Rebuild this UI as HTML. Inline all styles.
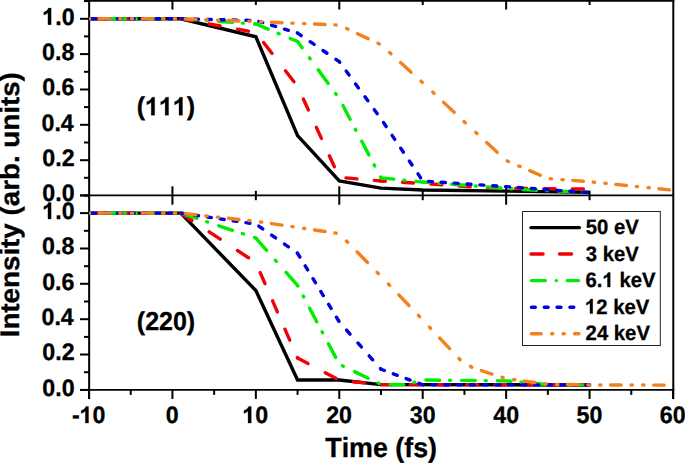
<!DOCTYPE html>
<html><head><meta charset="utf-8"><title>Intensity vs Time</title>
<style>
html,body{margin:0;padding:0;background:#fff;}
body{width:685px;height:463px;overflow:hidden;}
svg{display:block;}
text{font-family:"Liberation Sans",sans-serif;font-weight:bold;fill:#000;font-kerning:none;text-rendering:geometricPrecision;stroke:#000;stroke-width:0.3px;}
.h{fill:none;stroke:none;}
</style></head><body>
<svg width="685" height="463" viewBox="0 0 685 463">
<rect x="0" y="0" width="685" height="463" fill="#fff"/>
<g stroke="#000" stroke-width="2" fill="none">
<line x1="84" y1="0.8" x2="674.3" y2="0.8" stroke-width="1.7"/>
<line x1="80" y1="195.45" x2="673" y2="195.45" stroke-width="1.7"/>
<line x1="80" y1="389.85" x2="674.3" y2="389.85" stroke-width="1.9"/>
<line x1="89.15" y1="0" x2="89.15" y2="398.9"/>
<line x1="673.3" y1="0" x2="673.3" y2="398.9"/>
<line x1="80" y1="195.5" x2="89" y2="195.5"/>
<line x1="84" y1="177.8" x2="89" y2="177.8"/>
<line x1="80" y1="160.2" x2="89" y2="160.2"/>
<line x1="84" y1="142.5" x2="89" y2="142.5"/>
<line x1="80" y1="124.8" x2="89" y2="124.8"/>
<line x1="84" y1="107.1" x2="89" y2="107.1"/>
<line x1="80" y1="89.5" x2="89" y2="89.5"/>
<line x1="84" y1="71.8" x2="89" y2="71.8"/>
<line x1="80" y1="54.1" x2="89" y2="54.1"/>
<line x1="84" y1="36.4" x2="89" y2="36.4"/>
<line x1="80" y1="18.8" x2="89" y2="18.8"/>
<line x1="84" y1="1.1" x2="89" y2="1.1"/>
<line x1="80" y1="389.9" x2="89" y2="389.9"/>
<line x1="84" y1="372.2" x2="89" y2="372.2"/>
<line x1="80" y1="354.5" x2="89" y2="354.5"/>
<line x1="84" y1="336.9" x2="89" y2="336.9"/>
<line x1="80" y1="319.2" x2="89" y2="319.2"/>
<line x1="84" y1="301.5" x2="89" y2="301.5"/>
<line x1="80" y1="283.8" x2="89" y2="283.8"/>
<line x1="84" y1="266.2" x2="89" y2="266.2"/>
<line x1="80" y1="248.5" x2="89" y2="248.5"/>
<line x1="84" y1="230.8" x2="89" y2="230.8"/>
<line x1="80" y1="213.1" x2="89" y2="213.1"/>
<line x1="84" y1="195.5" x2="89" y2="195.5"/>
<line x1="89.00" y1="389.9" x2="89.00" y2="398.9"/>
<line x1="130.72" y1="389.9" x2="130.72" y2="394.9"/>
<line x1="172.43" y1="389.9" x2="172.43" y2="398.9"/>
<line x1="214.14" y1="389.9" x2="214.14" y2="394.9"/>
<line x1="255.86" y1="389.9" x2="255.86" y2="398.9"/>
<line x1="297.57" y1="389.9" x2="297.57" y2="394.9"/>
<line x1="339.29" y1="389.9" x2="339.29" y2="398.9"/>
<line x1="381.00" y1="389.9" x2="381.00" y2="394.9"/>
<line x1="422.72" y1="389.9" x2="422.72" y2="398.9"/>
<line x1="464.44" y1="389.9" x2="464.44" y2="394.9"/>
<line x1="506.15" y1="389.9" x2="506.15" y2="398.9"/>
<line x1="547.87" y1="389.9" x2="547.87" y2="394.9"/>
<line x1="589.58" y1="389.9" x2="589.58" y2="398.9"/>
<line x1="631.29" y1="389.9" x2="631.29" y2="394.9"/>
<line x1="673.01" y1="389.9" x2="673.01" y2="398.9"/>
<line x1="172.43" y1="0" x2="172.43" y2="9.5"/>
<line x1="172.43" y1="186.3" x2="172.43" y2="204.7"/>
<line x1="255.86" y1="0" x2="255.86" y2="5.0"/>
<line x1="255.86" y1="190.8" x2="255.86" y2="200.2"/>
<line x1="339.29" y1="0" x2="339.29" y2="9.5"/>
<line x1="339.29" y1="186.3" x2="339.29" y2="204.7"/>
<line x1="422.72" y1="0" x2="422.72" y2="5.0"/>
<line x1="422.72" y1="190.8" x2="422.72" y2="200.2"/>
<line x1="506.15" y1="0" x2="506.15" y2="9.5"/>
<line x1="506.15" y1="186.3" x2="506.15" y2="204.7"/>
<line x1="589.58" y1="0" x2="589.58" y2="5.0"/>
<line x1="589.58" y1="190.8" x2="589.58" y2="200.2"/>
</g>
<defs><clipPath id="ct"><rect x="89.2" y="0" width="585" height="196"/></clipPath><clipPath id="cb"><rect x="89.2" y="196" width="585" height="194"/></clipPath></defs>
<g clip-path="url(#ct)" fill="none" stroke-width="3.4">
<polyline points="89.00,18.75 180.77,18.75 255.86,36.78 297.57,135.58 339.29,181.01 381.00,188.08 422.72,190.02 506.15,191.08 589.58,192.32" stroke="#000000" stroke-linejoin="miter" stroke-linecap="butt"/>
<g stroke="#f20008" stroke-linecap="round">
<line x1="89.00" y1="18.75" x2="180.77" y2="18.75" stroke-dasharray="11.000 17.300" stroke-dashoffset="21.300"/>
<line x1="180.77" y1="18.75" x2="255.86" y2="32.54" stroke-dasharray="11.184 17.589" stroke-dashoffset="28.644"/>
<line x1="255.86" y1="32.54" x2="297.57" y2="86.45" stroke-dasharray="13.909 21.875" stroke-dashoffset="23.215"/>
<line x1="297.57" y1="86.45" x2="339.29" y2="177.29" stroke-dasharray="12.104 19.037" stroke-dashoffset="17.242"/>
<line x1="339.29" y1="177.29" x2="381.00" y2="181.01" stroke-dasharray="11.043 17.368" stroke-dashoffset="21.704"/>
<line x1="381.00" y1="181.01" x2="422.72" y2="183.48" stroke-dasharray="11.019 17.330" stroke-dashoffset="6.745"/>
<line x1="422.72" y1="183.48" x2="481.12" y2="187.55" stroke-dasharray="11.027 17.342" stroke-dashoffset="20.197"/>
<line x1="481.12" y1="187.55" x2="522.84" y2="188.43" stroke-dasharray="11.002 17.304" stroke-dashoffset="21.954"/>
<line x1="522.84" y1="188.43" x2="589.58" y2="189.14" stroke-dasharray="11.001 17.301" stroke-dashoffset="7.065"/>
</g>
<g stroke="#00ec00" stroke-linecap="round">
<line x1="89.00" y1="18.75" x2="180.77" y2="18.75" stroke-dasharray="13.600 10.000 1.000 11.100" stroke-dashoffset="13.000"/>
<line x1="180.77" y1="18.75" x2="255.86" y2="24.05" stroke-dasharray="13.634 10.025 1.002 11.128" stroke-dashoffset="33.456"/>
<line x1="255.86" y1="24.05" x2="297.57" y2="41.55" stroke-dasharray="14.748 10.844 1.084 12.037" stroke-dashoffset="1.475"/>
<line x1="297.57" y1="41.55" x2="339.29" y2="98.64" stroke-dasharray="16.844 12.385 1.239 13.747" stroke-dashoffset="9.134"/>
<line x1="339.29" y1="98.64" x2="381.00" y2="177.82" stroke-dasharray="15.372 11.303 1.130 12.546" stroke-dashoffset="32.513"/>
<line x1="381.00" y1="177.82" x2="422.72" y2="182.07" stroke-dasharray="13.670 10.052 1.005 11.157" stroke-dashoffset="0.854"/>
<line x1="422.72" y1="182.07" x2="472.78" y2="185.78" stroke-dasharray="13.637 10.027 1.003 11.130" stroke-dashoffset="6.883"/>
<line x1="472.78" y1="185.78" x2="522.84" y2="189.67" stroke-dasharray="13.641 10.030 1.003 11.133" stroke-dashoffset="21.286"/>
<line x1="522.84" y1="189.67" x2="589.58" y2="192.32" stroke-dasharray="13.611 10.008 1.001 11.109" stroke-dashoffset="35.608"/>
</g>
<g stroke="#0000e0" stroke-linecap="round">
<line x1="89.00" y1="18.75" x2="180.77" y2="18.75" stroke-dasharray="4.000 8.850" stroke-dashoffset="10.150"/>
<line x1="180.77" y1="18.75" x2="255.86" y2="20.52" stroke-dasharray="4.001 8.852" stroke-dashoffset="11.976"/>
<line x1="255.86" y1="20.52" x2="297.57" y2="33.07" stroke-dasharray="4.177 9.242" stroke-dashoffset="10.401"/>
<line x1="297.57" y1="33.07" x2="339.29" y2="61.70" stroke-dasharray="4.852 10.734" stroke-dashoffset="0.334"/>
<line x1="339.29" y1="61.70" x2="381.00" y2="118.79" stroke-dasharray="4.954 10.961" stroke-dashoffset="4.260"/>
<line x1="381.00" y1="118.79" x2="422.72" y2="181.01" stroke-dasharray="4.816 10.655" stroke-dashoffset="10.993"/>
<line x1="422.72" y1="181.01" x2="464.44" y2="183.83" stroke-dasharray="4.009 8.870" stroke-dashoffset="7.113"/>
<line x1="464.44" y1="183.83" x2="506.15" y2="186.66" stroke-dasharray="4.009 8.870" stroke-dashoffset="10.285"/>
<line x1="506.15" y1="186.66" x2="589.58" y2="192.67" stroke-dasharray="4.010 8.873" stroke-dashoffset="0.578"/>
</g>
<g stroke="#f5801e" stroke-linecap="round">
<line x1="89.00" y1="18.75" x2="180.77" y2="18.75" stroke-dasharray="10.600 9.850 1.300 10.400 1.300 9.600" stroke-dashoffset="32.850"/>
<line x1="180.77" y1="18.75" x2="255.86" y2="21.58" stroke-dasharray="10.608 9.857 1.301 10.407 1.301 9.607" stroke-dashoffset="38.550"/>
<line x1="255.86" y1="21.58" x2="339.29" y2="25.11" stroke-dasharray="10.610 9.859 1.301 10.409 1.301 9.609" stroke-dashoffset="27.535"/>
<line x1="339.29" y1="25.11" x2="381.00" y2="44.73" stroke-dasharray="11.714 10.885 1.437 11.493 1.437 10.609" stroke-dashoffset="27.450"/>
<line x1="381.00" y1="44.73" x2="422.72" y2="82.73" stroke-dasharray="14.339 13.324 1.759 14.068 1.759 12.986" stroke-dashoffset="31.796"/>
<line x1="422.72" y1="82.73" x2="464.44" y2="121.97" stroke-dasharray="14.552 13.523 1.785 14.278 1.785 13.180" stroke-dashoffset="30.437"/>
<line x1="464.44" y1="121.97" x2="506.15" y2="160.50" stroke-dasharray="14.430 13.409 1.770 14.158 1.770 13.069" stroke-dashoffset="28.363"/>
<line x1="506.15" y1="160.50" x2="547.87" y2="178.53" stroke-dasharray="11.548 10.731 1.416 11.330 1.416 10.458" stroke-dashoffset="21.243"/>
<line x1="547.87" y1="178.53" x2="589.58" y2="181.71" stroke-dasharray="10.631 9.879 1.304 10.430 1.304 9.628" stroke-dashoffset="18.218"/>
<line x1="589.58" y1="181.71" x2="673.01" y2="190.20" stroke-dasharray="10.655 9.901 1.307 10.454 1.307 9.650" stroke-dashoffset="16.917"/>
</g>
</g>
<g clip-path="url(#cb)" fill="none" stroke-width="3.4">
<polyline points="89.00,213.15 180.77,213.15 255.86,290.57 297.57,380.00 339.29,380.00 381.00,384.60 589.58,384.95" stroke="#000000" stroke-linejoin="miter" stroke-linecap="butt"/>
<g stroke="#f20008" stroke-linecap="round">
<line x1="89.00" y1="213.15" x2="180.77" y2="213.15" stroke-dasharray="11.000 17.300" stroke-dashoffset="21.300"/>
<line x1="180.77" y1="213.15" x2="255.86" y2="262.64" stroke-dasharray="13.174 20.720" stroke-dashoffset="33.742"/>
<line x1="255.86" y1="262.64" x2="297.57" y2="358.08" stroke-dasharray="12.005 18.880" stroke-dashoffset="20.037"/>
<line x1="297.57" y1="358.08" x2="339.29" y2="380.18" stroke-dasharray="12.448 19.577" stroke-dashoffset="0.685"/>
<line x1="339.29" y1="380.18" x2="381.00" y2="384.60" stroke-dasharray="11.062 17.397" stroke-dashoffset="14.098"/>
<line x1="381.00" y1="384.60" x2="589.58" y2="384.95" stroke-dasharray="11.000 17.300" stroke-dashoffset="27.435"/>
</g>
<g stroke="#00ec00" stroke-linecap="round">
<line x1="89.00" y1="213.15" x2="180.77" y2="213.15" stroke-dasharray="13.600 10.000 1.000 11.100" stroke-dashoffset="13.000"/>
<line x1="180.77" y1="213.15" x2="255.86" y2="238.07" stroke-dasharray="14.330 10.536 1.054 11.695" stroke-dashoffset="35.163"/>
<line x1="255.86" y1="238.07" x2="297.57" y2="285.44" stroke-dasharray="18.122 13.325 1.332 14.791" stroke-dashoffset="1.812"/>
<line x1="297.57" y1="285.44" x2="339.29" y2="364.27" stroke-dasharray="15.387 11.314 1.131 12.558" stroke-dashoffset="14.741"/>
<line x1="339.29" y1="364.27" x2="381.00" y2="384.42" stroke-dasharray="15.103 11.105 1.111 12.327" stroke-dashoffset="22.721"/>
<line x1="381.00" y1="384.42" x2="406.03" y2="384.60" stroke-dasharray="13.600 10.000 1.000 11.100" stroke-dashoffset="26.475"/>
<line x1="406.03" y1="384.60" x2="422.72" y2="380.00" stroke-dasharray="14.106 10.372 1.037 11.513" stroke-dashoffset="16.392"/>
<line x1="422.72" y1="380.00" x2="506.15" y2="380.89" stroke-dasharray="13.601 10.001 1.000 11.101" stroke-dashoffset="32.491"/>
<line x1="506.15" y1="380.89" x2="547.87" y2="384.60" stroke-dasharray="13.654 10.040 1.004 11.144" stroke-dashoffset="8.854"/>
<line x1="547.87" y1="384.60" x2="589.58" y2="384.95" stroke-dasharray="13.600 10.000 1.000 11.100" stroke-dashoffset="14.835"/>
</g>
<g stroke="#0000e0" stroke-linecap="round">
<line x1="89.00" y1="213.15" x2="180.77" y2="213.15" stroke-dasharray="4.000 8.850" stroke-dashoffset="10.150"/>
<line x1="180.77" y1="213.15" x2="255.86" y2="224.11" stroke-dasharray="4.042 8.944" stroke-dashoffset="12.100"/>
<line x1="255.86" y1="224.11" x2="297.57" y2="253.27" stroke-dasharray="4.881 10.798" stroke-dashoffset="12.153"/>
<line x1="297.57" y1="253.27" x2="339.29" y2="321.85" stroke-dasharray="4.682 10.359" stroke-dashoffset="0.322"/>
<line x1="339.29" y1="321.85" x2="381.00" y2="369.22" stroke-dasharray="5.330 11.793" stroke-dashoffset="6.135"/>
<line x1="381.00" y1="369.22" x2="422.72" y2="384.77" stroke-dasharray="4.269 9.445" stroke-dashoffset="0.612"/>
<line x1="422.72" y1="384.77" x2="589.58" y2="384.95" stroke-dasharray="4.000 8.850" stroke-dashoffset="3.738"/>
</g>
<g stroke="#f5801e" stroke-linecap="round">
<line x1="89.00" y1="213.15" x2="180.77" y2="213.15" stroke-dasharray="10.600 9.850 1.300 10.400 1.300 9.600" stroke-dashoffset="32.850"/>
<line x1="180.77" y1="213.15" x2="255.86" y2="221.28" stroke-dasharray="10.662 9.908 1.308 10.461 1.308 9.656" stroke-dashoffset="38.748"/>
<line x1="255.86" y1="221.28" x2="339.29" y2="233.65" stroke-dasharray="10.716 9.958 1.314 10.514 1.314 9.705" stroke-dashoffset="27.811"/>
<line x1="339.29" y1="233.65" x2="381.00" y2="276.25" stroke-dasharray="14.836 13.787 1.820 14.556 1.820 13.437" stroke-dashoffset="34.767"/>
<line x1="381.00" y1="276.25" x2="422.72" y2="319.91" stroke-dasharray="14.661 13.624 1.798 14.384 1.798 13.278" stroke-dashoffset="33.730"/>
<line x1="422.72" y1="319.91" x2="460.26" y2="359.85" stroke-dasharray="14.547 13.518 1.784 14.272 1.784 13.175" stroke-dashoffset="34.301"/>
<line x1="460.26" y1="359.85" x2="472.78" y2="367.81" stroke-dasharray="12.560 11.671 1.540 12.323 1.540 11.375" stroke-dashoffset="25.936"/>
<line x1="472.78" y1="367.81" x2="506.15" y2="378.59" stroke-dasharray="11.139 10.351 1.366 10.929 1.366 10.089" stroke-dashoffset="36.155"/>
<line x1="506.15" y1="378.59" x2="547.87" y2="384.24" stroke-dasharray="10.697 9.940 1.312 10.495 1.312 9.688" stroke-dashoffset="24.952"/>
<line x1="547.87" y1="384.24" x2="589.58" y2="384.95" stroke-dasharray="10.602 9.851 1.300 10.401 1.300 9.601" stroke-dashoffset="23.394"/>
<line x1="589.58" y1="384.95" x2="673.01" y2="385.13" stroke-dasharray="10.600 9.850 1.300 10.400 1.300 9.600" stroke-dashoffset="22.056"/>
</g>
</g>
<text x="42.30 55.20 61.65" y="201.40" font-size="23.20" transform="matrix(1,0,0,1.0300,0,-6.042)">0.0</text>
<text x="42.28 55.18 61.63" y="166.05" font-size="23.20" transform="matrix(1,0,0,1.0300,0,-4.982)">0.2</text>
<text x="41.47 54.38 60.82" y="130.70" font-size="23.20" transform="matrix(1,0,0,1.0300,0,-3.921)">0.4</text>
<text x="42.19 55.09 61.54" y="95.35" font-size="23.20" transform="matrix(1,0,0,1.0300,0,-2.861)">0.6</text>
<text x="42.06 54.97 61.41" y="60.00" font-size="23.20" transform="matrix(1,0,0,1.0300,0,-1.800)">0.8</text>
<text x="42.30 55.20 61.65" y="24.65" font-size="23.20" transform="matrix(1,0,0,1.0300,0,-0.740)"><tspan class="h">1</tspan>.0</text>
<text x="42.30 55.20 61.65" y="395.80" font-size="23.20" transform="matrix(1,0,0,1.0300,0,-11.874)">0.0</text>
<text x="42.28 55.18 61.63" y="360.45" font-size="23.20" transform="matrix(1,0,0,1.0300,0,-10.814)">0.2</text>
<text x="41.47 54.38 60.82" y="325.10" font-size="23.20" transform="matrix(1,0,0,1.0300,0,-9.753)">0.4</text>
<text x="42.19 55.09 61.54" y="289.75" font-size="23.20" transform="matrix(1,0,0,1.0300,0,-8.693)">0.6</text>
<text x="42.06 54.97 61.41" y="254.40" font-size="23.20" transform="matrix(1,0,0,1.0300,0,-7.632)">0.8</text>
<text x="42.30 55.20 61.65" y="219.05" font-size="23.20" transform="matrix(1,0,0,1.0300,0,-6.572)"><tspan class="h">1</tspan>.0</text>
<text x="71.96 79.68 92.59" y="423.00" font-size="23.20" transform="matrix(1,0,0,1.0300,0,-12.690)">-<tspan class="h">1</tspan>0</text>
<text x="165.70" y="423.00" font-size="23.20" transform="matrix(1,0,0,1.0300,0,-12.690)">0</text>
<text x="242.40 255.31" y="423.00" font-size="23.20" transform="matrix(1,0,0,1.0300,0,-12.690)"><tspan class="h">1</tspan>0</text>
<text x="326.16 339.06" y="423.00" font-size="23.20" transform="matrix(1,0,0,1.0300,0,-12.690)">20</text>
<text x="409.73 422.63" y="423.00" font-size="23.20" transform="matrix(1,0,0,1.0300,0,-12.690)">30</text>
<text x="493.25 506.15" y="423.00" font-size="23.20" transform="matrix(1,0,0,1.0300,0,-12.690)">40</text>
<text x="576.50 589.40" y="423.00" font-size="23.20" transform="matrix(1,0,0,1.0300,0,-12.690)">50</text>
<text x="659.86 672.76" y="423.00" font-size="23.20" transform="matrix(1,0,0,1.0300,0,-12.690)">60</text>
<text x="325.28 341.65 349.10 372.93 387.83 395.28 404.20 413.13 428.03" y="457.40" font-size="26.80" transform="matrix(1,0,0,1.0300,0,-13.722)">Time (fs)</text>
<g transform="translate(19.0,204.5) rotate(-90)">
<text x="-132.83" y="0" font-size="27.75" transform="scale(1,0.97)">Intensity (arb. units)</text>
</g>
<text x="136.82 145.14 159.05 172.95 186.86" y="115.20" font-size="25.00" transform="matrix(1,0,0,1.0300,0,-3.456)">(<tspan class="h">1</tspan><tspan class="h">1</tspan><tspan class="h">1</tspan>)</text>
<text x="136.82 145.14 159.05 172.95 186.86" y="329.80" font-size="25.00" transform="matrix(1,0,0,1.0300,0,-9.894)">(220)</text>
<rect x="522.5" y="211.5" width="137.8" height="134" fill="#fff" stroke="#222" stroke-width="1"/>
<line x1="531.0" y1="227.6" x2="579.4" y2="227.6" stroke="#000000" stroke-width="3.4" stroke-linecap="round"/>
<text x="585.68 596.97 608.26 613.90 625.19" y="234.10" font-size="20.30" transform="matrix(1,0,0,1.0300,0,-7.023)">50 eV</text>
<line x1="531.0" y1="254.0" x2="580.0" y2="254.0" stroke="#f20008" stroke-width="3.4" stroke-linecap="round" stroke-dasharray="12.1 16.4"/>
<text x="585.83 597.12 602.76 614.05 625.34" y="260.60" font-size="20.30" transform="matrix(1,0,0,1.0300,0,-7.818)">3 keV</text>
<line x1="531.4" y1="280.6" x2="578.5" y2="280.6" stroke="#00ec00" stroke-width="3.4" stroke-linecap="round" stroke-dasharray="14 10.8 0.2 10.8"/>
<text x="585.56 596.85 602.49 613.78 619.42 630.71 642.00" y="287.10" font-size="20.30" transform="matrix(1,0,0,1.0300,0,-8.613)">6.<tspan class="h">1</tspan> keV</text>
<line x1="531.4" y1="307.2" x2="574.0" y2="307.2" stroke="#0000e0" stroke-width="3.4" stroke-linecap="round" stroke-dasharray="3.9 8.93"/>
<text x="585.02 596.31 607.60 613.24 624.53 635.82" y="313.60" font-size="20.30" transform="matrix(1,0,0,1.0300,0,-9.408)"><tspan class="h">1</tspan>2 keV</text>
<line x1="531.4" y1="333.8" x2="579.0" y2="333.8" stroke="#f5801e" stroke-width="3.4" stroke-linecap="round" stroke-dasharray="9.8 10.4 1.2 10.25 1.2 10.25"/>
<text x="585.60 596.89 608.18 613.82 625.11 636.40" y="340.10" font-size="20.30" transform="matrix(1,0,0,1.0300,0,-10.203)">24 keV</text>
<g fill="#000" stroke="#000">
<path d="M780 0L499 0L499 1059C396 962 276 890 136 846L136 1101C210 1125 290 1166 376 1223C462 1280 521 1361 552 1466L780 1466Z" stroke-width="26.5" transform="matrix(0.01133,0,0,-0.01133,42.30,24.65)"/>
<path d="M780 0L499 0L499 1059C396 962 276 890 136 846L136 1101C210 1125 290 1166 376 1223C462 1280 521 1361 552 1466L780 1466Z" stroke-width="26.5" transform="matrix(0.01133,0,0,-0.01133,42.30,219.05)"/>
<path d="M780 0L499 0L499 1059C396 962 276 890 136 846L136 1101C210 1125 290 1166 376 1223C462 1280 521 1361 552 1466L780 1466Z" stroke-width="26.5" transform="matrix(0.01133,0,0,-0.01133,79.68,423.00)"/>
<path d="M780 0L499 0L499 1059C396 962 276 890 136 846L136 1101C210 1125 290 1166 376 1223C462 1280 521 1361 552 1466L780 1466Z" stroke-width="26.5" transform="matrix(0.01133,0,0,-0.01133,242.40,423.00)"/>
<path d="M780 0L499 0L499 1059C396 962 276 890 136 846L136 1101C210 1125 290 1166 376 1223C462 1280 521 1361 552 1466L780 1466Z" stroke-width="24.6" transform="matrix(0.01221,0,0,-0.01221,145.14,115.20)"/>
<path d="M780 0L499 0L499 1059C396 962 276 890 136 846L136 1101C210 1125 290 1166 376 1223C462 1280 521 1361 552 1466L780 1466Z" stroke-width="24.6" transform="matrix(0.01221,0,0,-0.01221,159.05,115.20)"/>
<path d="M780 0L499 0L499 1059C396 962 276 890 136 846L136 1101C210 1125 290 1166 376 1223C462 1280 521 1361 552 1466L780 1466Z" stroke-width="24.6" transform="matrix(0.01221,0,0,-0.01221,172.95,115.20)"/>
<path d="M780 0L499 0L499 1059C396 962 276 890 136 846L136 1101C210 1125 290 1166 376 1223C462 1280 521 1361 552 1466L780 1466Z" stroke-width="30.3" transform="matrix(0.00991,0,0,-0.00991,602.49,287.10)"/>
<path d="M780 0L499 0L499 1059C396 962 276 890 136 846L136 1101C210 1125 290 1166 376 1223C462 1280 521 1361 552 1466L780 1466Z" stroke-width="30.3" transform="matrix(0.00991,0,0,-0.00991,585.02,313.60)"/>
</g>
</svg>
</body></html>
